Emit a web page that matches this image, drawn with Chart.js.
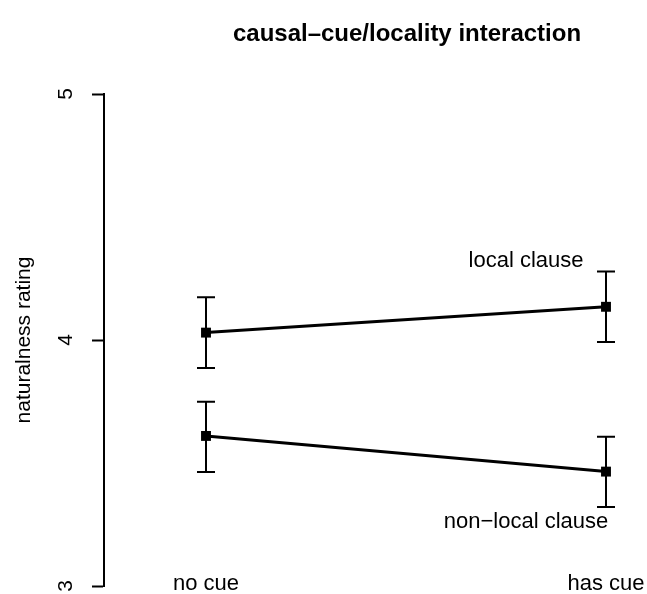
<!DOCTYPE html>
<html>
<head>
<meta charset="utf-8">
<script src="https://cdn.jsdelivr.net/npm/chart.js@4/dist/chart.umd.min.js"></script>
<style>
  html, body { margin: 0; padding: 0; background: #ffffff; }
  #c { display: block; }
</style>
</head>
<body>
<canvas id="c" width="647" height="594"></canvas>
<script>
// Condition labels along the horizontal axis
const categories = ['no cue', 'has cue'];

// Mean naturalness ratings per condition
const localMeans = [4.03, 4.135];
const nonLocalMeans = [3.61, 3.465];

// Error bar limits (lower / upper)
const localLower = [3.886, 3.992];
const localUpper = [4.174, 4.278];
const nonLocalLower = [3.463, 3.321];
const nonLocalUpper = [3.749, 3.607];

// Y axis ticks
const yTicks = [3, 4, 5];

// Series annotations: text, x (condition units), y (rating)
const seriesLabels = ['local clause', 'non\u2212local clause'];
const seriesLabelX = [0.8, 0.8];
const seriesLabelY = [4.297, 3.236];

const FONT = '"Liberation Sans", Arial, Helvetica, sans-serif';

const toPoints = (vals) => vals.map((v, i) => ({ x: i, y: v }));

const errorBars = [
  { lower: localLower, upper: localUpper },
  { lower: nonLocalLower, upper: nonLocalUpper }
];

// Draws error bars, title, condition names and series labels
const annotate = {
  id: 'annotate',
  beforeDatasetsDraw(chart) {
    const { ctx, scales: { x, y } } = chart;
    ctx.save();
    ctx.strokeStyle = '#000';
    ctx.lineWidth = 2;
    errorBars.forEach(eb => {
      eb.lower.forEach((lo, i) => {
        const px = x.getPixelForValue(i);
        const pLo = y.getPixelForValue(lo);
        const pHi = y.getPixelForValue(eb.upper[i]);
        ctx.beginPath();
        ctx.moveTo(px, pLo);
        ctx.lineTo(px, pHi);
        ctx.moveTo(px - 9, pLo);
        ctx.lineTo(px + 9, pLo);
        ctx.moveTo(px - 9, pHi);
        ctx.lineTo(px + 9, pHi);
        ctx.stroke();
      });
    });
    ctx.restore();
  },
  afterDraw(chart) {
    const { ctx, scales: { x, y } } = chart;
    ctx.save();
    ctx.fillStyle = '#000';
    ctx.textAlign = 'center';
    ctx.textBaseline = 'alphabetic';

    ctx.font = 'bold 24px ' + FONT;
    ctx.fillText('causal\u2013cue/locality interaction', 407, 41);

    ctx.font = '22px ' + FONT;
    categories.forEach((c, i) => {
      ctx.fillText(c, x.getPixelForValue(i), 590);
    });

    seriesLabels.forEach((t, i) => {
      ctx.fillText(t, x.getPixelForValue(seriesLabelX[i]), y.getPixelForValue(seriesLabelY[i]));
    });
    ctx.restore();
  }
};

const lineStyle = {
  borderColor: '#000',
  backgroundColor: '#000',
  borderWidth: 3,
  pointStyle: 'rect',
  pointRadius: 7,
  pointHoverRadius: 7,
  pointBackgroundColor: '#000',
  pointBorderColor: '#000',
  pointBorderWidth: 0,
  tension: 0,
  fill: false,
  clip: false
};

new Chart(document.getElementById('c'), {
  type: 'line',
  data: {
    datasets: [
      Object.assign({ label: seriesLabels[0], data: toPoints(localMeans) }, lineStyle),
      Object.assign({ label: seriesLabels[1], data: toPoints(nonLocalMeans) }, lineStyle)
    ]
  },
  options: {
    responsive: false,
    animation: false,
    events: [],
    layout: { padding: { left: 0, top: 94, right: 7, bottom: 8 } },
    plugins: {
      legend: { display: false },
      title: { display: false },
      tooltip: { enabled: false }
    },
    scales: {
      x: {
        type: 'linear',
        display: false,
        min: -0.255,
        max: 1.085
      },
      y: {
        type: 'linear',
        position: 'left',
        min: 3,
        max: 5,
        afterFit(scale) {
          scale.width = 104;
          scale.paddingTop = 0;
          scale.paddingBottom = 0;
        },
        afterBuildTicks(scale) { scale.ticks = yTicks.map(v => ({ value: v })); },
        border: { display: true, color: '#000', width: 2 },
        grid: {
          display: true,
          drawOnChartArea: false,
          drawTicks: true,
          tickLength: 12,
          tickWidth: 2,
          tickColor: '#000'
        },
        ticks: {
          minRotation: 90,
          maxRotation: 90,
          crossAlign: 'center',
          padding: 20,
          color: '#000',
          font: { family: FONT, size: 21 }
        },
        title: {
          display: true,
          text: 'naturalness rating',
          color: '#000',
          padding: { top: 12, bottom: 0 },
          font: { family: FONT, size: 21 }
        }
      }
    }
  },
  plugins: [annotate]
});
</script>
</body>
</html>
